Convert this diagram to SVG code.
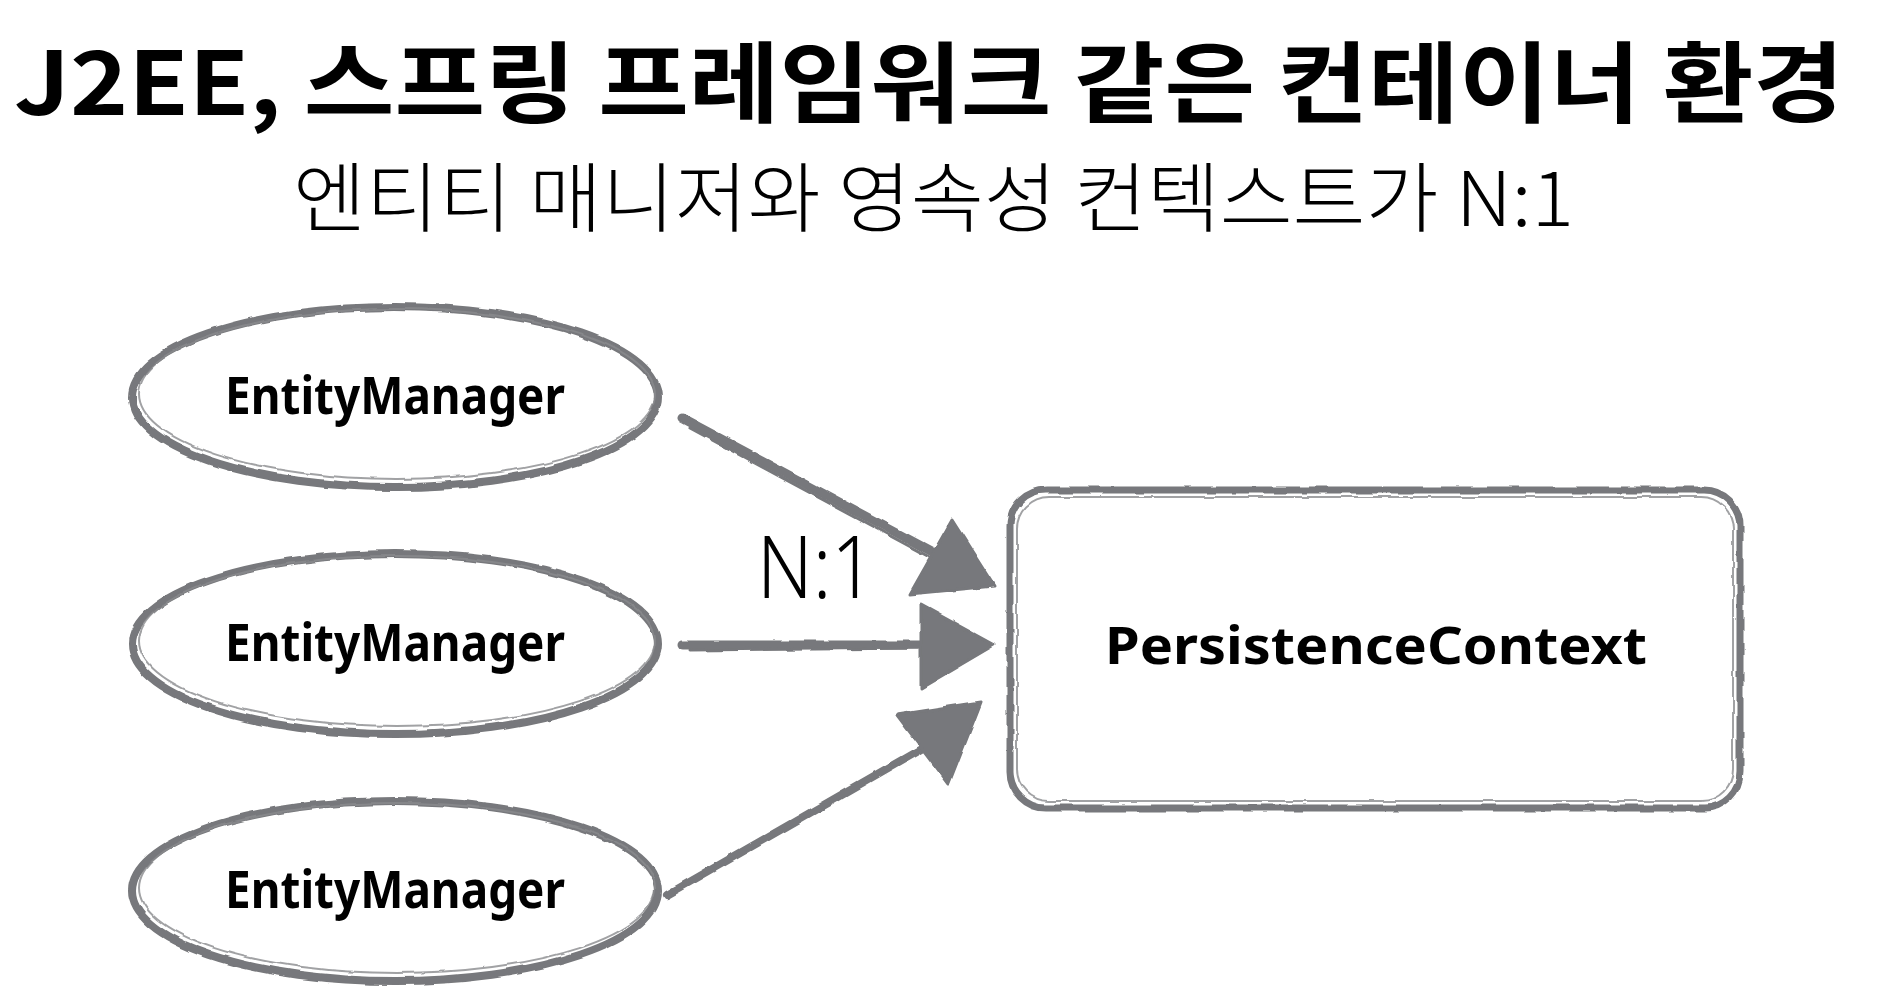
<svg xmlns="http://www.w3.org/2000/svg" width="1884" height="1000" viewBox="0 0 1884 1000">
<defs>
<filter id="rough" filterUnits="userSpaceOnUse" x="0" y="0" width="1884" height="1000">
<feTurbulence type="fractalNoise" baseFrequency="0.05" numOctaves="2" seed="3" result="n"/>
<feDisplacementMap in="SourceGraphic" in2="n" scale="4" xChannelSelector="R" yChannelSelector="G"/>
</filter>
</defs>
<style>
.title{font-family:"Noto Sans CJK KR","Noto Sans",sans-serif;font-weight:700;fill:#000}
.sub{font-family:"Noto Sans CJK KR","Noto Sans",sans-serif;font-weight:300;fill:#000}
.lbl{font-family:"Noto Sans","Open Sans",sans-serif;font-weight:700;fill:#000;font-size:52px}
.sk{fill:none;stroke:#77787b;stroke-linecap:round;filter:url(#rough)}
.skin{fill:none;stroke:#8a8b8e;stroke-width:2;opacity:0.8;filter:url(#rough)}
.head{fill:#77787b;stroke:#77787b;stroke-width:3;stroke-linejoin:round;filter:url(#rough)}
.shaft{stroke:#77787b;stroke-linecap:round;fill:none;filter:url(#rough)}
</style>
<rect width="1884" height="1000" fill="#fff"/>
<text class="title" x="14" y="115" font-size="88" textLength="1830" lengthAdjust="spacingAndGlyphs">J2EE, 스프링 프레임워크 같은 컨테이너 환경</text>
<text class="sub" x="293" y="226" font-size="76" textLength="1281" lengthAdjust="spacingAndGlyphs">엔티티 매니저와 영속성 컨텍스트가 N:1</text>

<g id="em1">
<ellipse class="sk" cx="395" cy="397" rx="263" ry="90" stroke-width="8"/>
<ellipse class="skin" cx="397" cy="394" rx="258" ry="85"/>
<text class="lbl" x="395" y="414" text-anchor="middle" textLength="340" lengthAdjust="spacingAndGlyphs">EntityManager</text>
</g>
<g id="em2">
<ellipse class="sk" cx="395" cy="644" rx="263" ry="90" stroke-width="8"/>
<ellipse class="skin" cx="397" cy="641" rx="258" ry="85"/>
<text class="lbl" x="395" y="661" text-anchor="middle" textLength="340" lengthAdjust="spacingAndGlyphs">EntityManager</text>
</g>
<g id="em3">
<ellipse class="sk" cx="395" cy="891" rx="263" ry="90" stroke-width="8"/>
<ellipse class="skin" cx="397" cy="888" rx="258" ry="85"/>
<text class="lbl" x="395" y="908" text-anchor="middle" textLength="340" lengthAdjust="spacingAndGlyphs">EntityManager</text>
</g>

<g id="pc">
<rect class="sk" x="1010" y="490" width="730" height="318" rx="36" stroke-width="7"/>
<rect class="skin" x="1017" y="497" width="716" height="304" rx="32"/>
<text class="lbl" x="1376" y="664" text-anchor="middle" font-size="57" textLength="542" lengthAdjust="spacingAndGlyphs">PersistenceContext</text>
</g>

<g id="connectors">
<path class="shaft" d="M682 418 L940 556" stroke-width="9"/>
<path class="shaft" d="M690 428 L935 560" stroke-width="3"/>
<polygon class="head" points="994,586 910,594 952,520"/>
<path class="shaft" d="M682 645 L930 645" stroke-width="9"/>
<path class="shaft" d="M690 650 L925 648" stroke-width="3"/>
<polygon class="head" points="994,645 921,605 921,688"/>
<path class="shaft" d="M667 895 L928 745" stroke-width="8"/>
<polygon class="head" points="981,702 897,715 949,784"/>
<text x="816" y="598" text-anchor="middle" font-family="Noto Sans, sans-serif" font-weight="300" font-size="86" textLength="118" lengthAdjust="spacingAndGlyphs" fill="#000">N:1</text>
</g>
</svg>
